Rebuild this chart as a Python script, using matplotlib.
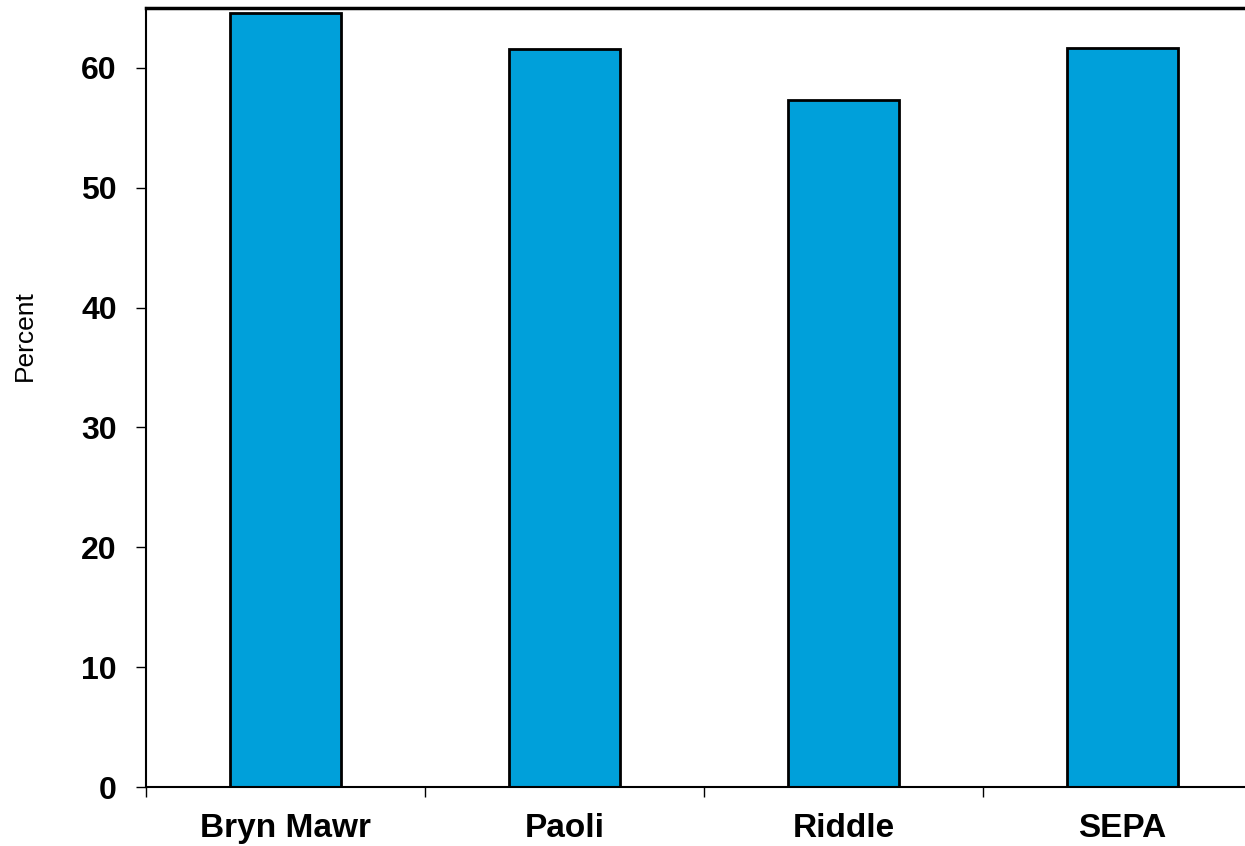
import numpy as np
import matplotlib
matplotlib.use('Agg')
from matplotlib import pyplot as plt

# values
sites = ['Bryn Mawr', 'Paoli', 'Riddle', 'SEPA']
percent = [64.6, 61.6, 57.3, 61.7]
yticks = [0, 10, 20, 30, 40, 50, 60]

plt.rcParams['font.family'] = ['Liberation Sans', 'DejaVu Sans']

fig = plt.figure(figsize=(12.45, 8.46), dpi=100)
# axes runs past the right edge, as in the reference (cropped)
ax = fig.add_axes([0.1173, 0.0697, 0.8964, 0.9208])

x = np.arange(len(sites))
ax.bar(x, percent, width=0.4, color='#00A0DA', edgecolor='black', linewidth=2)

ax.set_xlim(-0.5, len(sites) - 0.5)
ax.set_ylim(0, 65)

ax.set_yticks(yticks)
ax.set_yticklabels([str(t) for t in yticks], fontsize=23, fontweight='bold')
ax.tick_params(axis='y', direction='out', length=7, width=1, pad=14)

# labels at category centres, ticks on boundaries
ax.set_xticks(x)
ax.set_xticklabels(sites, fontsize=24, fontweight='bold')
ax.tick_params(axis='x', which='major', length=0, pad=19)
ax.set_xticks(np.arange(len(sites) + 1) - 0.5, minor=True)
ax.tick_params(axis='x', which='minor', direction='out', length=7, width=1)

ax.set_ylabel('Percent', fontsize=19, va='center')
ax.yaxis.set_label_coords(-0.109, 0.579)

for s in ['left', 'bottom']:
    ax.spines[s].set_linewidth(1.5)
ax.spines['top'].set_linewidth(2.5)
ax.spines['right'].set_visible(False)

fig.savefig('out.png', dpi=100)
